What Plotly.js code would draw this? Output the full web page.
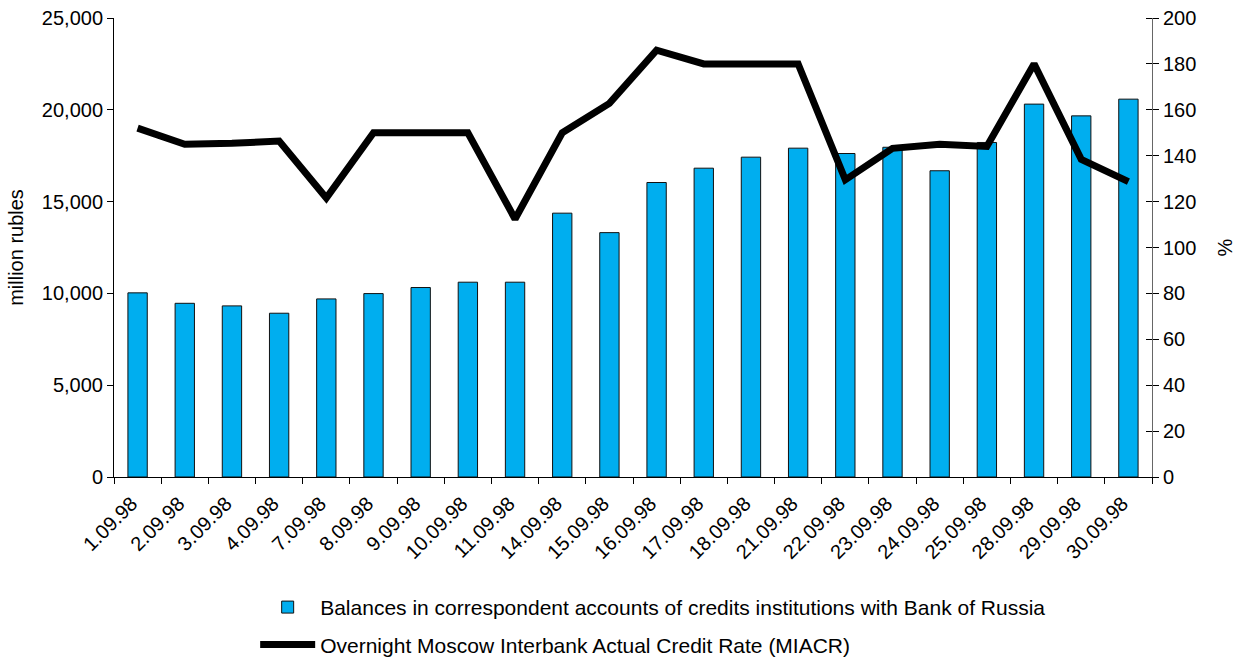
<!DOCTYPE html>
<html>
<head>
<meta charset="utf-8">
<script src="https://cdn.plot.ly/plotly-3.0.1.min.js"></script>
<style>html,body{margin:0;padding:0;background:#fff;}#chart{width:1248px;height:660px;}</style>
</head>
<body>
<div id="chart"></div>
<script>
const dates = ["1.09.98","2.09.98","3.09.98","4.09.98","7.09.98","8.09.98","9.09.98","10.09.98","11.09.98","14.09.98","15.09.98","16.09.98","17.09.98","18.09.98","21.09.98","22.09.98","23.09.98","24.09.98","25.09.98","28.09.98","29.09.98","30.09.98"];
const balances = [10030,9460,9320,8920,9700,9990,10320,10610,10610,14370,13310,16040,16820,17420,17910,17620,17960,16680,18220,20310,19670,20580];
const miacr = [152,145,145.4,146.4,121.6,150,150,150,112.4,150,162.8,186,180,180,180,129.5,143.2,145,144,180,138.4,128.7];
const barName = "Balances in correspondent accounts of credits institutions with Bank of Russia";
const lineName = "Overnight Moscow Interbank Actual Credit Rate (MIACR)";

const fam = "Liberation Sans, Arial, sans-serif";
const font = {family: fam, size: 20, color: "#000"};

const traces = [
  {type: "bar", x: dates, y: balances, name: barName, yaxis: "y", width: 0.41,
   marker: {color: "#00AEEF", line: {color: "#111", width: 1}}, legendgroup: "a"},
  {type: "scatter", mode: "lines", x: dates, y: miacr, name: lineName, yaxis: "y2",
   line: {color: "#000", width: 7}, legendgroup: "b"}
];

const layout = {
  width: 1248, height: 660,
  margin: {l: 114, r: 96, t: 18, b: 183, autoexpand: false},
  paper_bgcolor: "#fff", plot_bgcolor: "#fff",
  font: font,
  showlegend: true,
  legend: {x: 0.136, y: -0.2395, xanchor: "left", yanchor: "top", orientation: "v",
           font: {family: fam, size: 21, color: "#000"}, tracegroupgap: 7, itemwidth: 55,
           bgcolor: "rgba(0,0,0,0)"},
  xaxis: {type: "category", range: [-0.5, 21.5], tickangle: -45, tickson: "boundaries", automargin: false,
          ticklabelstandoff: 6, ticklabelshift: -6,
          ticks: "outside", ticklen: 6, tickcolor: "#000", showline: true, linecolor: "#000", linewidth: 1,
          showgrid: false, zeroline: false, tickfont: {size: 20}},
  yaxis: {range: [0, 25000], dtick: 5000, tickformat: ",d", showline: true, linecolor: "#000", linewidth: 1,
          automargin: false,
          ticks: "outside", ticklen: 6, tickcolor: "#000", showgrid: false, zeroline: false,
          title: {text: "million rubles", font: {size: 20}, standoff: 12}, tickfont: {size: 20}},
  yaxis2: {range: [0, 200], dtick: 20, overlaying: "y", side: "right", showline: true, linecolor: "#666", linewidth: 1,
           automargin: false,
           ticks: "outside", ticklen: 6, tickcolor: "#000", showgrid: false, zeroline: false,
           minor: {ticks: "inside", dtick: 20, ticklen: 6, tickcolor: "#000", showgrid: false},
           title: {text: "%", font: {size: 20}, standoff: 22}, tickfont: {size: 20}}
};

Plotly.newPlot("chart", traces, layout, {displayModeBar: false, staticPlot: true});
</script>
</body>
</html>
